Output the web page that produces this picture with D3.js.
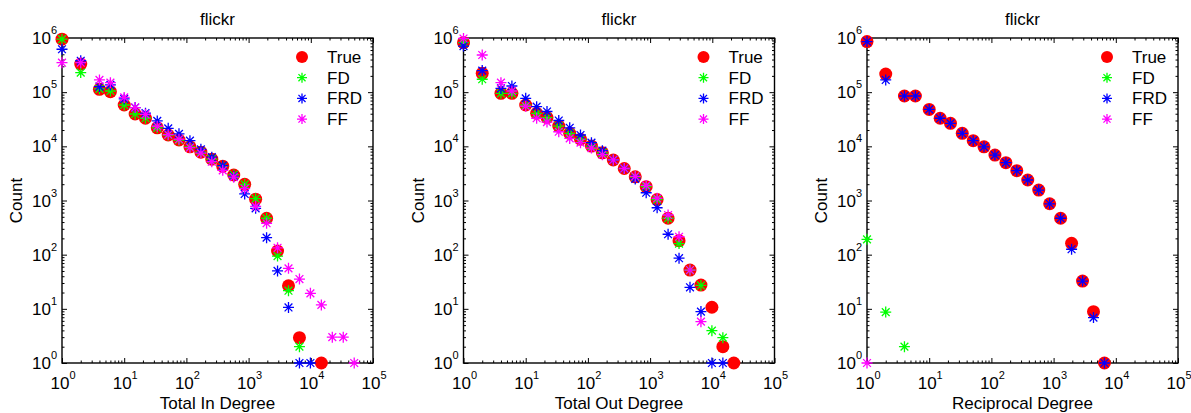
<!DOCTYPE html>
<html><head><meta charset="utf-8">
<script src="https://cdn.jsdelivr.net/npm/d3@7"></script>
<style>
body{margin:0;background:#fff}
svg{display:block}
text{font-family:"Liberation Sans",Arial,Helvetica,sans-serif;fill:#000}
</style>
</head><body>
<svg id="chart" width="1191" height="413"></svg>
<script>
// ---------- data ----------
const degreeBins = [1,2,4,6,10,15,22,34,51,76,114,171,256,384,577,865,1297,1946,2919,4379,6568,9853,14779,22168,33253,49879];
const seriesNames = ["True","FD","FRD","FF"];
const seriesColors = ["#ff0000","#00ff00","#0000ff","#ff00ff"];
const xTickExponents = [0,1,2,3,4,5];
const yTickExponents = [0,1,2,3,4,5,6];
const panelTitles = ["flickr","flickr","flickr"];
const xAxisTitles = ["Total In Degree","Total Out Degree","Reciprocal Degree"];
const yAxisTitle = "Count";

const inTrue = [9.5e5,3.3e5,1.13e5,1.02e5,5.8e4,3.95e4,3.3e4,2.2e4,1.62e4,1.31e4,9.8e3,7.8e3,5.8e3,4.3e3,2.96e3,1.99e3,1.06e3,470,117,26.7,2.94,null,1,null,null,null];
const inFD   = [9.5e5,2.3e5,1.15e5,1.05e5,5.8e4,3.95e4,3.3e4,2.2e4,1.62e4,1.31e4,9.8e3,7.8e3,5.8e3,4.3e3,2.96e3,1.99e3,1.08e3,470,94,21.6,2,null,null,null,null,null];
const inFRD  = [6.2e5,3.8e5,1.27e5,1.36e5,7.5e4,5.2e4,4.1e4,2.95e4,2.15e4,1.7e4,1.27e4,8.8e3,6.3e3,4.4e3,2.8e3,1.32e3,718,206,50,10.6,1,1,null,null,null,null];
const inFF   = [3.5e5,3.5e5,1.68e5,1.5e5,8e4,5.2e4,3.9e4,2.35e4,1.65e4,1.35e4,9.5e3,7.5e3,5.2e3,3.6e3,2.7e3,1.65e3,780,380,134,56,35.5,19.3,11.8,3,3,1];

const outTrue = [8.2e5,2.23e5,9.5e4,9.5e4,5.8e4,4.07e4,3.4e4,2.37e4,1.74e4,1.35e4,1.01e4,7.6e3,5.6e3,3.9e3,2.74e3,1.8e3,1.04e3,470,181,52,27.5,10.7,2,1,null,null];
const outFD   = [8.2e5,1.73e5,9.5e4,9.5e4,5.8e4,4.07e4,3.4e4,2.37e4,1.74e4,1.35e4,1.01e4,7.6e3,5.6e3,3.9e3,2.74e3,1.8e3,1.04e3,470,160,52,27,3.95,2.94,null,null,null];
const outFRD  = [7.1e5,2.5e5,1.17e5,1.3e5,7.7e4,5.4e4,4.4e4,3.0e4,2.2e4,1.62e4,1.17e4,8.3e3,5.6e3,3.9e3,2.5e3,1.39e3,735,238,86,25,8.9,1,1,null,null,null];
const outFF   = [9.8e5,4.85e5,1.5e5,1.05e5,5.5e4,3.3e4,2.8e4,1.86e4,1.4e4,1.17e4,9.3e3,7e3,5.6e3,3.9e3,2.8e3,1.9e3,1.1e3,540,214,52,5.8,null,null,null,null,null];

const recTrue = [8.6e5,2.16e5,8.5e4,8.5e4,4.8e4,3.3e4,2.66e4,1.74e4,1.27e4,9.8e3,6.9e3,5e3,3.55e3,2.39e3,1.56e3,870,470,162,32.6,8.85,1,null,null,null,null,null];
const recFD   = [192,8.7,2,null,null,null,null,null,null,null,null,null,null,null,null,null,null,null,null,null,null,null,null,null,null,null];
const recFRD  = [8.6e5,1.68e5,8.5e4,8.5e4,4.8e4,3.3e4,2.66e4,1.74e4,1.27e4,9.8e3,6.9e3,5e3,3.55e3,2.39e3,1.56e3,870,470,126,32.6,6.9,1,null,null,null,null,null];
const recFF   = [1,null,null,null,null,null,null,null,null,null,null,null,null,null,null,null,null,null,null,null,null,null,null,null,null,null];

const panelSeries = [
  [inTrue, inFD, inFRD, inFF],
  [outTrue, outFD, outFRD, outFF],
  [recTrue, recFD, recFRD, recFF]
];

// ---------- layout ----------
const panelLefts = [62, 463.5, 867];
const plotW = 311, plotTop = 38, plotBottom = 363;
const FS = 17;
const svg = d3.select("#chart");

function starPath(r){
  const d = r*Math.SQRT1_2;
  return `M${-r},0L${r},0M0,${-r}L0,${r}M${-d},${-d}L${d},${d}M${-d},${d}L${d},${-d}`;
}

panelSeries.forEach((series, pi) => {
  const left = panelLefts[pi], right = left + plotW;
  const x = d3.scaleLog().domain([1, 1e5]).range([left, right]);
  const y = d3.scaleLog().domain([1, 1e6]).range([plotBottom, plotTop]);
  const g = svg.append("g");

  const majorX = xTickExponents.map(e => Math.pow(10, e));
  const majorY = yTickExponents.map(e => Math.pow(10, e));
  const minorX = [], minorY = [];
  for (let e = 0; e < 5; e++) for (let m = 2; m <= 9; m++) minorX.push(m*Math.pow(10, e));
  for (let e = 0; e < 6; e++) for (let m = 2; m <= 9; m++) minorY.push(m*Math.pow(10, e));

  const addAxis = (axisFn, scale, vals, size, transform) => {
    const a = g.append("g").attr("transform", transform)
      .call(axisFn(scale).tickValues(vals).tickSize(size).tickFormat(""));
    a.select(".domain").remove();
    a.selectAll("line").attr("stroke", "#000").attr("stroke-width", 1);
  };
  addAxis(d3.axisBottom, x, majorX, -5, `translate(0,${plotBottom})`);
  addAxis(d3.axisBottom, x, minorX, -2.5, `translate(0,${plotBottom})`);
  addAxis(d3.axisTop, x, majorX, -5, `translate(0,${plotTop})`);
  addAxis(d3.axisTop, x, minorX, -2.5, `translate(0,${plotTop})`);
  addAxis(d3.axisLeft, y, majorY, -5, `translate(${left},0)`);
  addAxis(d3.axisLeft, y, minorY, -2.5, `translate(${left},0)`);
  addAxis(d3.axisRight, y, majorY, -5, `translate(${right},0)`);
  addAxis(d3.axisRight, y, minorY, -2.5, `translate(${right},0)`);

  g.append("rect").attr("x", left).attr("y", plotTop).attr("width", plotW)
    .attr("height", plotBottom - plotTop).attr("fill", "none")
    .attr("stroke", "#000").attr("stroke-width", 1.4);

  xTickExponents.forEach(e => {
    const t = g.append("text").attr("x", x(Math.pow(10, e)) + 1).attr("y", 389)
      .attr("text-anchor", "middle").attr("font-size", FS);
    t.append("tspan").text("10");
    t.append("tspan").attr("dy", -10).attr("font-size", 11).text(e);
  });
  yTickExponents.forEach(e => {
    const t = g.append("text").attr("x", left - 5).attr("y", y(Math.pow(10, e)) + 6)
      .attr("text-anchor", "end").attr("font-size", FS);
    t.append("tspan").text("10");
    t.append("tspan").attr("dy", -10).attr("font-size", 11).text(e);
  });

  g.append("text").attr("x", (left + right)/2).attr("y", 25).attr("text-anchor", "middle")
    .attr("font-size", FS).text(panelTitles[pi]);
  g.append("text").attr("x", (left + right)/2).attr("y", 409).attr("text-anchor", "middle")
    .attr("font-size", FS).text(xAxisTitles[pi]);
  g.append("text")
    .attr("transform", `translate(${left - 40},${(plotTop+plotBottom)/2}) rotate(-90)`)
    .attr("text-anchor", "middle").attr("font-size", FS)
    .text(yAxisTitle);

  series.forEach((vals, si) => {
    const pts = degreeBins.map((d, i) => ({d, v: vals[i]})).filter(p => p.v != null);
    if (si === 0) {
      g.append("g").selectAll("circle").data(pts).join("circle")
        .attr("cx", p => x(p.d)).attr("cy", p => y(p.v)).attr("r", 6.5)
        .attr("fill", seriesColors[si]);
    } else {
      g.append("g").selectAll("path").data(pts).join("path")
        .attr("transform", p => `translate(${x(p.d)},${y(p.v)})`)
        .attr("d", starPath(5.5)).attr("fill", "none")
        .attr("stroke", seriesColors[si]).attr("stroke-width", 1.3);
    }
  });

  const lg = g.append("g");
  seriesNames.forEach((name, si) => {
    const ly = plotTop + 19 + si*20.7;
    const mx = right - 71;
    if (si === 0) {
      lg.append("circle").attr("cx", mx).attr("cy", ly).attr("r", 6).attr("fill", seriesColors[si]);
    } else {
      lg.append("path").attr("transform", `translate(${mx},${ly})`).attr("d", starPath(5))
        .attr("fill", "none").attr("stroke", seriesColors[si]).attr("stroke-width", 1.3);
    }
    lg.append("text").attr("x", right - 46).attr("y", ly + 6).attr("font-size", FS).text(name);
  });
});
</script>
</body></html>
